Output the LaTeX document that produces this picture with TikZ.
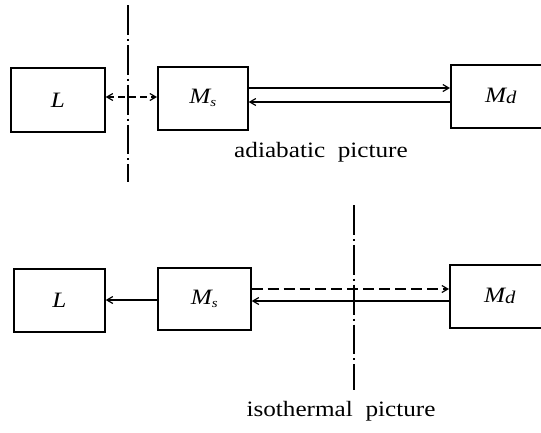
\documentclass[tikz,border=0pt]{standalone}
\usepackage{fontspec}
\setmainfont{Liberation Serif}
\newfontfamily\widefont{Liberation Serif}[FakeStretch=1.15]
\usetikzlibrary{arrows.meta,calc}

\tikzset{
  block/.style={draw, line width=1.7pt, rectangle, inner sep=0pt, anchor=north west,
                font=\widefont\fontsize{22}{22}\selectfont\itshape},
  tip/.style={Straight Barb[length=6pt,width=7pt]},
  flow/.style={line width=1.2pt, -{Straight Barb[length=6pt,width=7pt]}},
  flowboth/.style={line width=1.2pt, {Straight Barb[length=6pt,width=7pt]}-{Straight Barb[length=6pt,width=7pt]}},
  shortdash/.style={dash pattern=on 7pt off 4pt},
  longdash/.style={dash pattern=on 11pt off 5pt},
  boundary/.style={line width=1.1pt, dash pattern=on 30pt off 4pt on 2pt off 4pt},
  caption/.style={font=\widefont\fontsize{22}{22}\selectfont}
}
\newcommand{\msub}[1]{M\raisebox{-0.3ex}{\fontsize{13}{13}\selectfont #1}}
\newcommand{\mdsub}[1]{M\raisebox{-0.1ex}{\fontsize{18}{18}\selectfont #1}}

\begin{document}
\begin{tikzpicture}[x=1bp, y=-1bp]
  \clip (0,0) rectangle (541,432);
  \fill[white] (0,0) rectangle (541,432);

  % --- adiabatic picture ---
  \node[block, minimum width=94bp, minimum height=64bp] (L1) at (10,67) {L};
  \node[block, minimum width=90bp, minimum height=63bp] (Ms1) at (157,66) {\msub{s}};
  \node[block, minimum width=100bp, minimum height=63bp] (Md1) at (450,64) {\mdsub{d}};

  \coordinate (cut1top) at (128,5);
  \coordinate (cut1bot) at (128,182);
  \draw[boundary] (cut1top) -- (cut1bot);

  \draw[flowboth, shortdash] (L1.east |- 0,97) -- (Ms1.west |- 0,97);
  \draw[flow] (Ms1.east |- 0,88) -- (Md1.west |- 0,88);
  \draw[flow] (Md1.west |- 0,102) -- (Ms1.east |- 0,102);

  \node[caption] (cap1) at (321,152) {adiabatic\ \ picture};

  % --- isothermal picture ---
  \node[block, minimum width=91bp, minimum height=63bp] (L2) at (13,268) {L};
  \node[block, minimum width=93bp, minimum height=62bp] (Ms2) at (157,267) {\msub{s}};
  \node[block, minimum width=100bp, minimum height=63bp] (Md2) at (449,264) {\mdsub{d}};

  \coordinate (cut2top) at (354,205);
  \coordinate (cut2bot) at (354,390);
  \draw[boundary] (cut2top) -- (cut2bot);

  \draw[flow] (Ms2.west |- 0,300) -- (L2.east |- 0,300);
  \draw[flow, longdash] (Ms2.east |- 0,289) -- (Md2.west |- 0,289);
  \draw[flow] (Md2.west |- 0,301) -- (Ms2.east |- 0,301);

  \node[caption] (cap2) at (341,411) {isothermal\ \ picture};
\end{tikzpicture}
\end{document}
